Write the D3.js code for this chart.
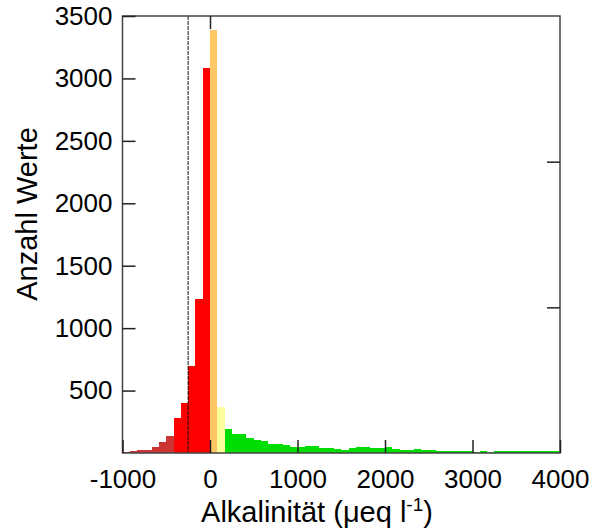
<!DOCTYPE html>
<html>
<meta charset="utf-8">
<head>
  <title>Alkalinität Histogramm</title>
</head>

<style>
body { margin: 0; background: white; }
text {
  font-family: "Liberation Sans", Arial, sans-serif;
  fill: black;
}
.tick text { font-size: 26px; }
.label { font-size: 29px; }
</style>

<body>
  <svg width="596" height="528"></svg>

  <script src="https://cdnjs.cloudflare.com/ajax/libs/d3/7.8.5/d3.min.js"></script>
  <script>
// 60 classes from -1000 to 4000 (width 83.3)
var binStart = -1000, binEnd = 4000;
var counts = [10, 20, 25, 25, 52, 90, 137, 278, 403, 697, 1230, 3080, 3390, 372,
  190, 150, 155, 120, 104, 98, 76, 72, 61, 51, 46, 59, 60, 41, 40, 30,
  28, 40, 45, 46, 42, 39, 48, 29, 21, 22, 29, 21, 28, 18, 17, 19, 18, 19,
  12, 20, 12, 17, 15, 16, 18, 15, 16, 15, 14, 16];
var yTicks = [500, 1000, 1500, 2000, 2500, 3000, 3500];
var xTicks = [-1000, 0, 1000, 2000, 3000, 4000];
var limit = -250;

var colorOf = function(i) {
  if (i < 7) return '#cc3333';
  if (i < 12) return '#ff0000';
  if (i === 12) return '#ffc864';
  if (i === 13) return '#ffff99';
  return '#00dd00';
};

var svg = d3.select('svg');
var pLeft = 122.5, pRight = 560, pTop = 16, pBottom = 453;

var x = d3.scaleLinear().domain([binStart, binEnd]).range([pLeft, pRight]);
var y = d3.scaleLinear().domain([0, 3500]).range([pBottom, pTop]);
var w = (binEnd - binStart) / counts.length;
var fmt = function(d) { return String(d); };

svg.append('g')
  .selectAll('rect')
  .data(counts)
  .enter()
  .append('rect')
  .attr('x', function(d, i) { return x(binStart + i * w); })
  .attr('width', function(d, i) { return x(binStart + (i + 1) * w) - x(binStart + i * w); })
  .attr('y', function(d) { return y(d); })
  .attr('height', function(d) { return pBottom - y(d); })
  .attr('fill', function(d, i) { return colorOf(i); })
  .attr('shape-rendering', 'crispEdges');

// dashed limit line
svg.append('line')
  .attr('x1', x(limit)).attr('x2', x(limit))
  .attr('y1', pTop).attr('y2', pBottom)
  .attr('stroke', '#111')
  .attr('stroke-dasharray', '4,1');

// frame
svg.append('rect')
  .attr('x', pLeft).attr('y', pTop)
  .attr('width', pRight - pLeft).attr('height', pBottom - pTop)
  .attr('fill', 'none')
  .attr('stroke', '#444')
  .attr('stroke-width', 1.5);

svg.append('g')
  .attr('transform', 'translate(' + pLeft + ',0)')
  .call(d3.axisLeft(y).tickValues(yTicks).tickSize(-13).tickPadding(10).tickFormat(fmt));

svg.append('g')
  .attr('transform', 'translate(0,' + pBottom + ')')
  .call(d3.axisBottom(x).tickValues(xTicks).tickSize(-13).tickPadding(17).tickFormat(fmt));

// right side ticks (no labels)
svg.append('g')
  .attr('transform', 'translate(' + pRight + ',0)')
  .call(d3.axisRight(d3.scaleLinear().domain([0, 3]).range([pBottom, pTop]))
    .tickValues([1, 2]).tickSize(-13).tickFormat(''));

// top tick at 0
svg.append('g')
  .attr('transform', 'translate(0,' + pTop + ')')
  .call(d3.axisTop(x).tickValues([0]).tickSize(-13).tickFormat(''));

svg.selectAll('.domain').remove();
svg.selectAll('.tick line').attr('stroke', '#222').attr('stroke-width', 1.5);
svg.selectAll('.tick text').attr('font-family', null).attr('font-size', null);

svg.append('text')
  .attr('class', 'label')
  .attr('text-anchor', 'middle')
  .attr('transform', 'translate(37,214) rotate(-90)')
  .text('Anzahl Werte');

var xl = svg.append('text')
  .attr('class', 'label')
  .attr('text-anchor', 'middle')
  .attr('x', 317)
  .attr('y', 522);
xl.append('tspan').text('Alkalinität (μeq l');
xl.append('tspan').attr('dy', -11).attr('font-size', 19).text('-1');
xl.append('tspan').attr('dy', 11).text(')');
  </script>
</body>
</html>
